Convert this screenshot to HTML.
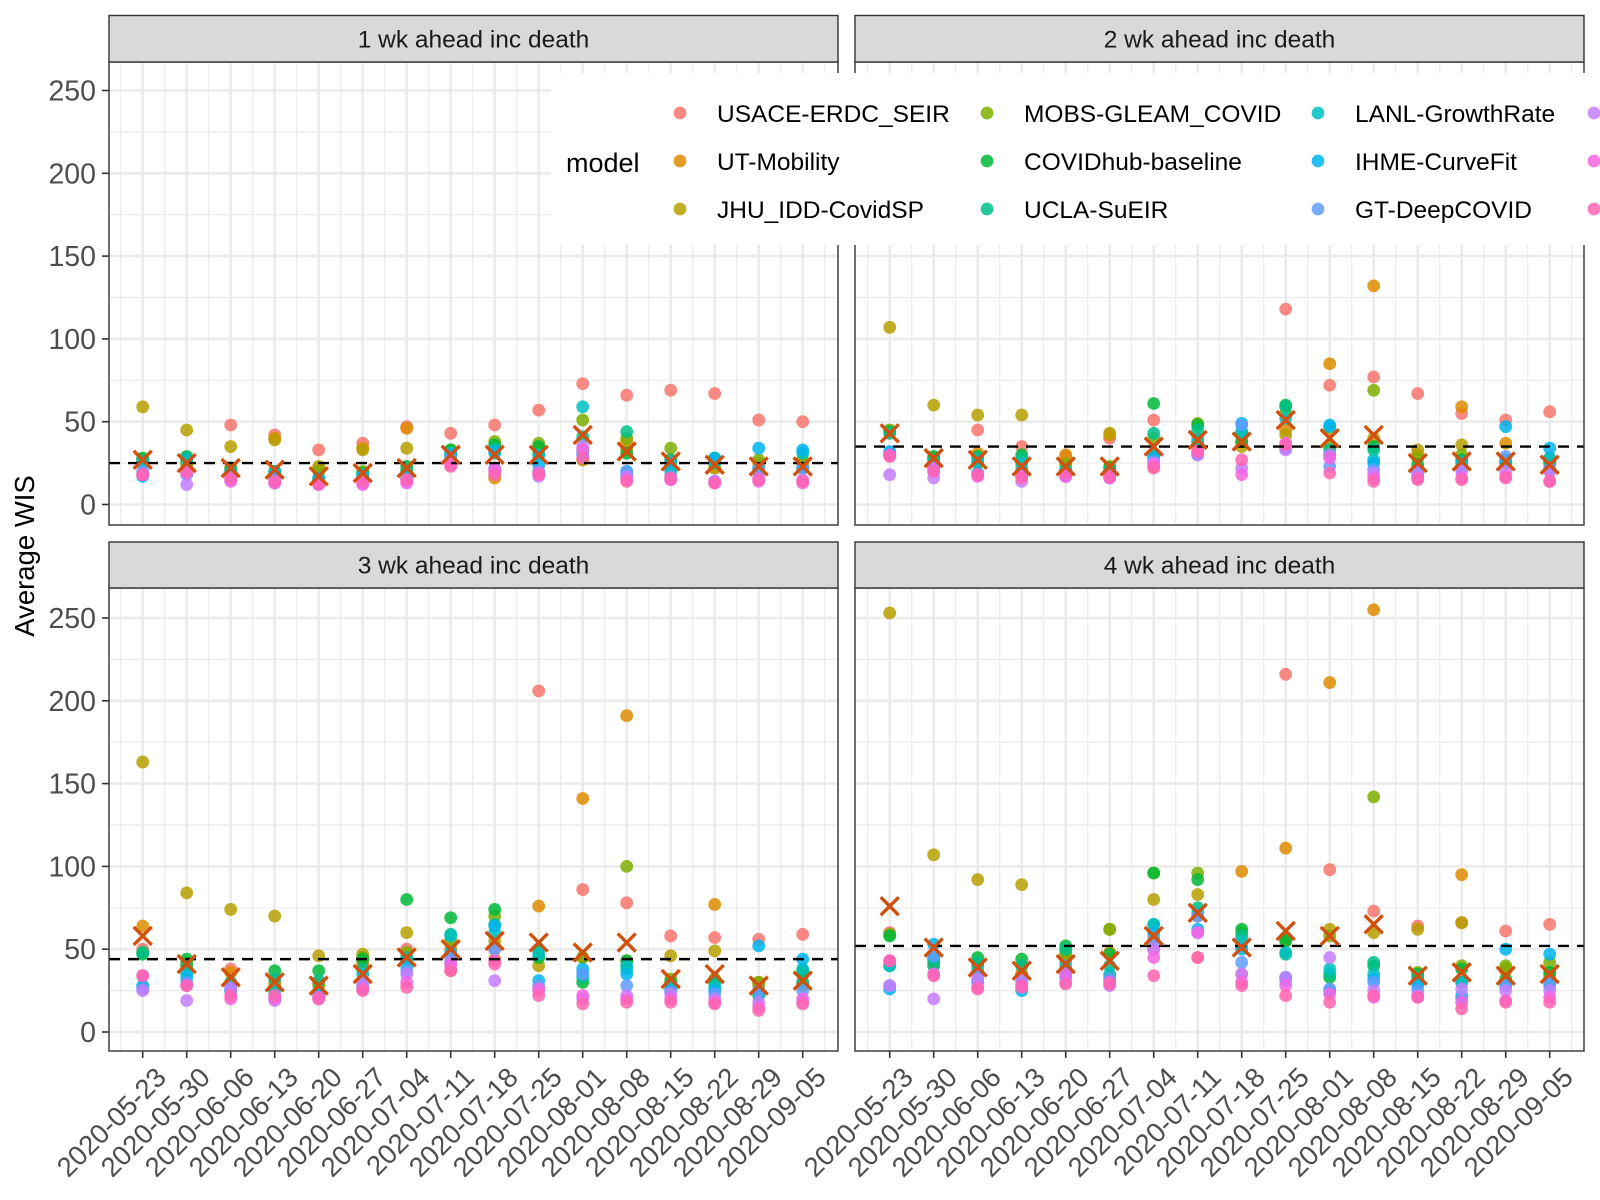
<!DOCTYPE html>
<html><head><meta charset="utf-8"><style>
body{margin:0;background:#fff;}
svg{display:block;font-family:"Liberation Sans",sans-serif;}
</style></head><body>
<svg id="chart" width="1600" height="1200" viewBox="0 0 1600 1200"></svg>
<script>
const dates=["2020-05-23","2020-05-30","2020-06-06","2020-06-13","2020-06-20","2020-06-27","2020-07-04","2020-07-11","2020-07-18","2020-07-25","2020-08-01","2020-08-08","2020-08-15","2020-08-22","2020-08-29","2020-09-05"];
const models=["USACE-ERDC_SEIR","UT-Mobility","JHU_IDD-CovidSP","MOBS-GLEAM_COVID","COVIDhub-baseline","UCLA-SuEIR","LANL-GrowthRate","IHME-CurveFit","GT-DeepCOVID","model-10","model-11","model-12"];
const modelColors=["#F8766D","#DE8C00","#B79F00","#7CAE00","#00BA38","#00C08B","#00BFC4","#00B4F0","#619CFF","#C77CFF","#F564E3","#FF64B0"];
const panelTitles=["1 wk ahead inc death","2 wk ahead inc death","3 wk ahead inc death","4 wk ahead inc death"];
const yTicks=[0,50,100,150,200,250];
const refLines=[25,35,44,52];
const p1=[[27,25,48,42,33,37,47,43,48,57,73,66,69,67,51,50],[27,24,22,40,22,34,46,30,16,34,27,38,27,22,25,25],[59,45,35,39,23,33,34,28,18,33,27,33,25,22,22,22],[27,25,22,20,20,20,21,33,38,37,51,40,34,27,27,27],[28,29,21,20,16,19,23,33,36,35,33,31,22,28,22,22],[25,28,19,19,15,18,20,30,34,30,41,44,27,25,20,22],[26,27,20,20,16,18,18,31,31,30,59,20,20,26,20,31],[17,20,18,18,15,17,16,30,32,24,31,18,25,28,34,33],[20,18,16,15,13,15,15,28,22,20,30,20,17,14,22,22],[18,12,15,13,12,13,14,25,20,17,35,17,15,14,16,15],[18,19,14,13,12,12,13,24,21,19,33,15,15,13,14,13],[18,20,16,14,13,14,15,23,18,18,28,14,16,13,15,14]];
const p2=[[30,28,45,35,29,40,51,40,38,118,72,77,67,55,51,56],[30,28,31,22,30,42,23,35,38,45,85,132,30,59,37,20],[107,60,54,54,25,43,30,38,35,42,45,40,33,36,25,25],[45,27,25,26,24,23,40,49,43,55,35,69,28,30,25,28],[44,29,29,30,21,22,61,48,38,60,30,35,24,27,26,25],[43,26,28,28,21,20,43,45,43,59,33,33,22,26,27,26],[31,25,26,25,20,19,30,38,44,52,47,27,20,25,26,28],[32,22,19,20,19,18,28,30,49,35,48,25,19,23,47,34],[30,20,18,18,17,18,26,30,48,34,23,21,17,21,29,22],[18,16,18,14,17,16,25,30,22,33,30,19,20,20,20,20],[30,22,17,17,17,16,24,32,18,37,28,16,16,16,17,14],[29,20,18,16,19,17,22,32,27,36,19,14,15,15,16,14]];
const p3=[[50,40,38,28,30,40,50,37,50,206,86,78,58,57,56,59],[64,40,36,30,29,42,45,42,44,76,141,191,30,77,30,30],[163,84,74,70,46,47,60,50,55,40,45,43,46,49,28,28],[48,42,28,27,28,45,48,55,70,50,45,100,32,32,30,35],[47,44,25,37,37,44,80,69,74,45,30,43,30,30,25,37],[48,40,30,32,31,38,45,59,65,50,33,38,29,30,22,30],[28,35,25,25,24,35,44,58,60,47,35,40,27,27,23,38],[27,33,25,22,22,28,40,48,64,31,38,35,25,25,52,44],[26,30,27,21,20,27,37,45,50,28,35,28,24,23,25,25],[25,19,26,19,20,30,35,42,31,25,20,22,23,20,18,18],[34,28,20,20,21,26,30,40,43,26,22,20,20,18,15,20],[34,28,22,22,20,25,27,37,41,22,17,18,18,17,13,17]];
const p4=[[60,40,40,35,38,33,50,45,35,216,98,73,64,66,61,65],[42,42,32,35,43,48,57,70,97,111,211,255,33,95,37,35],[253,107,92,89,46,62,80,83,52,55,62,60,62,66,38,33],[59,43,40,40,48,62,96,96,60,57,58,142,36,40,40,42],[58,44,45,44,52,47,96,92,62,55,33,40,35,38,32,36],[40,40,42,40,50,40,65,75,58,47,35,42,33,30,30,30],[40,45,37,30,40,35,65,72,55,48,38,35,30,30,28,28],[26,53,30,25,35,30,60,62,50,33,25,32,28,22,50,47],[28,46,35,28,33,32,55,70,42,31,26,30,25,20,28,30],[28,20,32,31,30,28,50,60,35,33,45,25,22,26,25,25],[43,35,27,28,35,30,45,60,30,28,23,21,21,18,19,21],[43,34,26,27,29,29,34,45,28,22,18,22,21,14,18,18]];
const means1=[27,25,22,21,17,19,22,30,30,30,42,32,26,24,23,23];
const means2=[43,28,27,23,23,23,35,39,38,51,40,42,25,26,26,24];
const means3=[58,41,33,30,28,35,45,50,55,54,48,54,32,35,28,31];
const means4=[76,51,39,37,41,43,58,72,51,61,58,65,34,36,34,35];
const panelData=[p1,p2,p3,p4];
const panelMeans=[means1,means2,means3,means4];

const NS="http://www.w3.org/2000/svg";
const svg=document.getElementById('chart');
function mk(tag,attrs,parent){const e=document.createElementNS(NS,tag);for(const k in attrs)e.setAttribute(k,attrs[k]);(parent||svg).appendChild(e);return e;}

const panels=[{x0:109,x1:838,sy0:15.5,sy1:62,py1:525,zero:504.5},{x0:855,x1:1584,sy0:15.5,sy1:62,py1:525,zero:504.5},{x0:109,x1:838,sy0:542,sy1:588,py1:1051,zero:1032},{x0:855,x1:1584,sy0:542,sy1:588,py1:1051,zero:1032}];
const firstTick=[142.7,889.7,142.7,889.7];
const step=44;
const perUnit=1.656;

panels.forEach((p,pi)=>{
  const g=mk('g',{});
  
  
  const xs=i=>firstTick[pi]+i*step;
  const ys=v=>p.zero-v*perUnit;
  const bg=mk('rect',{x:p.x0,y:p.sy1,width:p.x1-p.x0,height:p.py1-p.sy1,fill:'#fff'},g);
  
  
  for(let v=25;v<=275;v+=50){const y=ys(v);if(y>p.sy1)mk('line',{x1:p.x0,x2:p.x1,y1:y,y2:y,stroke:'#ebebeb','stroke-width':1.2},g);}
  for(let i=-1;i<dates.length;i++){const x=xs(i)+step/2;if(x>p.x0&&x<p.x1)mk('line',{x1:x,x2:x,y1:p.sy1,y2:p.py1,stroke:'#ebebeb','stroke-width':1.2},g);}
  yTicks.forEach(v=>{const y=ys(v);mk('line',{x1:p.x0,x2:p.x1,y1:y,y2:y,stroke:'#ebebeb','stroke-width':2.6},g);});
  dates.forEach((d,i)=>{const x=xs(i);mk('line',{x1:x,x2:x,y1:p.sy1,y2:p.py1,stroke:'#ebebeb','stroke-width':2.6},g);});
  panelData[pi].forEach((series,mi)=>{
    series.forEach((v,i)=>{
      const c=mk('circle',{cx:xs(i),cy:ys(v),r:6.4,fill:modelColors[mi],'fill-opacity':0.85},g);
      
      
    });
  });
  const rl=mk('line',{x1:p.x0,x2:p.x1,y1:ys(refLines[pi]),y2:ys(refLines[pi]),stroke:'#000','stroke-width':2.4,'stroke-dasharray':'11,8'},g);
  
  
  panelMeans[pi].forEach((v,i)=>{
    const x=xs(i),y=ys(v),s=9;
    const m=mk('path',{d:`M${x-s},${y-s}L${x+s},${y+s}M${x-s},${y+s}L${x+s},${y-s}`,stroke:'#D2500E','stroke-width':3.4,fill:'none'},g);
    
    
  });
  mk('rect',{x:p.x0,y:p.sy1,width:p.x1-p.x0,height:p.py1-p.sy1,fill:'none',stroke:'#333','stroke-width':1.4},g);
  const st=mk('rect',{x:p.x0,y:p.sy0,width:p.x1-p.x0,height:p.sy1-p.sy0,fill:'#d9d9d9',stroke:'#333','stroke-width':1.4},g);
  
  
  const tt=mk('text',{x:(p.x0+p.x1)/2,y:(p.sy0+p.sy1)/2+8.5,'text-anchor':'middle','font-size':24.5,fill:'#1a1a1a'},g);
  tt.textContent=panelTitles[pi];
  
  
  if(pi%2===0){
    yTicks.forEach(v=>{const y=ys(v);
      mk('line',{x1:p.x0-7,x2:p.x0,y1:y,y2:y,stroke:'#333','stroke-width':1.6},g);
      const t=mk('text',{x:p.x0-13,y:y+10,'text-anchor':'end','font-size':28.5,fill:'#4d4d4d'},g);
      t.textContent=v;
      
      
    });
  }
  if(pi>=2){
    dates.forEach((d,i)=>{const x=xs(i);
      mk('line',{x1:x,x2:x,y1:p.py1,y2:p.py1+7,stroke:'#333','stroke-width':1.6},g);
      const t=mk('text',{transform:`translate(${x+11},${p.py1+14}) rotate(-45)`,'text-anchor':'end','font-size':27.5,fill:'#4d4d4d',dy:'0.72em'},g);
      t.textContent=d;
      
      
    });
  }
});
const yt=mk('text',{transform:'translate(34,556) rotate(-90)','text-anchor':'middle','font-size':27.5,fill:'#000'});
yt.textContent='Average WIS';


const lg=mk('g',{});


mk('rect',{x:551,y:73,width:1049,height:172,fill:'#fff'},lg);
const lt=mk('text',{x:566,y:172,'font-size':27,fill:'#000'},lg);
lt.textContent='model';


const colX=[680,987,1318,1594],rowY=[113,161,209];
models.forEach((m,i)=>{
  const col=Math.floor(i/3),row=i%3;
  const c=mk('circle',{cx:colX[col],cy:rowY[row],r:6.4,fill:modelColors[i],'fill-opacity':0.85},lg);
  
  
  if(col<3){
    const t=mk('text',{x:colX[col]+37,y:rowY[row]+9,'font-size':24.5,fill:'#000'},lg);
    t.textContent=m;
    
    
  }
});
</script>
</body></html>
